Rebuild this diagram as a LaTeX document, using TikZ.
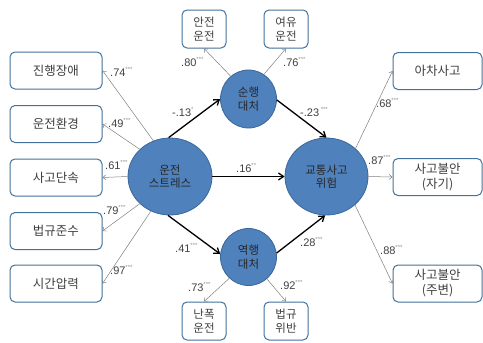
\documentclass[tikz,border=0pt]{standalone}
\usepackage{fontspec}
\setmainfont{Liberation Sans}
\newfontfamily\kr{Noto Sans CJK KR}
\usetikzlibrary{arrows.meta,shapes.geometric}
\definecolor{ellfill}{HTML}{4F81BD}
\definecolor{ellline}{HTML}{3A679A}
\definecolor{boxline}{HTML}{41719C}
\definecolor{txt}{HTML}{404040}
\definecolor{thinline}{HTML}{808080}
\definecolor{starc}{HTML}{909090}
\newcommand{\pv}[2]{#1\raisebox{0.75ex}{\fontsize{6}{6}\selectfont\color{starc}#2}}
\tikzset{
  box/.style={draw=boxline, line width=1pt, rounded corners=5pt, fill=white, text=txt,
    font=\kr\fontsize{12.5}{15}\selectfont, inner sep=0pt, align=center},
  lbox/.style={box, minimum width=92pt, minimum height=37pt},
  sbox/.style={box, minimum width=44pt, minimum height=38pt, font=\kr\fontsize{11.5}{14}\selectfont},
  rbox/.style={box, minimum width=89pt, minimum height=37pt},
  latent/.style={ellipse, draw=ellline, line width=0.8pt, fill=ellfill, inner sep=0pt,
    align=center, font=\kr\fontsize{11.5}{13.5}\selectfont, text=black!85},
  thinarr/.style={draw=thinline, line width=0.5pt, -{Straight Barb[length=3pt,width=5pt]}},
  thickarr/.style={draw=black, line width=1.3pt, -{Straight Barb[length=5pt,width=7pt]}},
  coef/.style={anchor=west, font=\fontsize{11}{11}\selectfont, text=txt, inner sep=0pt}
}
\begin{document}
\begin{tikzpicture}[x=1pt,y=-1pt]
\useasboundingbox (0,0) rectangle (483,343);
% latent variables
\node[latent, minimum width=84pt, minimum height=77pt] (stress) at (170,176.5) {운전\\스트레스};
\node[latent, minimum width=83pt, minimum height=77pt] (risk) at (326.5,176.5) {교통사고\\위험};
\node[latent, minimum width=56pt, minimum height=58pt] (sun) at (248.5,99) {순행\\대처};
\node[latent, minimum width=56pt, minimum height=57pt] (yeok) at (248.5,257) {역행\\대처};
% left boxes
\node[lbox] (b1) at (56,70.5) {진행장애};
\node[lbox] (b2) at (56,124) {운전환경};
\node[lbox] (b3) at (56,177.5) {사고단속};
\node[lbox] (b4) at (56,231) {법규준수};
\node[lbox] (b5) at (56,283.5) {시간압력};
% top and bottom boxes
\node[sbox] (t1) at (204,29) {안전\\운전};
\node[sbox] (t2) at (286,29) {여유\\운전};
\node[sbox] (d1) at (204,321) {난폭\\운전};
\node[sbox] (d2) at (286,321) {법규\\위반};
% right boxes
\node[rbox] (r1) at (437.5,71) {아차사고};
\node[rbox] (r2) at (437.5,177) {사고불안\\(자기)};
\node[rbox] (r3) at (437.5,283.5) {사고불안\\(주변)};
% thin arrows
\draw[thinarr] (stress.115) -- (b1.east);
\draw[thinarr] (stress.138) -- (b2.east);
\draw[thinarr] (stress.180) -- (b3.east);
\draw[thinarr] (stress.222) -- (b4.east);
\draw[thinarr] (stress.241) -- (b5.east);
\draw[thinarr] (sun.128) -- (t1.south);
\draw[thinarr] (sun.58) -- (t2.south);
\draw[thinarr] (yeok.228) -- (d1.north);
\draw[thinarr] (yeok.310) -- (d2.north);
\draw[thinarr] (risk.44) -- (r1.west);
\draw[thinarr] (risk.east) -- (r2.west);
\draw[thinarr] (risk.315) -- (r3.west);
% thick arrows
\draw[thickarr] (stress.92) -- (sun.180);
\draw[thickarr] (sun.358) -- (risk.90);
\draw[thickarr] (stress.east) -- (risk.west);
\draw[thickarr] (stress.267) -- (yeok.174);
\draw[thickarr] (yeok.8) -- (risk.268);
% coefficients
\node[coef] (c1) at (110,72) {\pv{.74}{***}};
\node[coef] (c2) at (108,123) {\pv{.49}{***}};
\node[coef] (c3) at (105,165) {\pv{.61}{***}};
\node[coef] (c4) at (103,210) {\pv{.79}{***}};
\node[coef] (c5) at (110,270) {\pv{.97}{***}};
\node[coef] (c6) at (181,62) {\pv{.80}{***}};
\node[coef] (c7) at (283,62) {\pv{.76}{***}};
\node[coef] (c8) at (172,112) {\pv{-.13}{*}};
\node[coef] (c9) at (300,112) {\pv{-.23}{\ ***}};
\node[coef] (c10) at (236,168) {\pv{.16}{**}};
\node[coef] (c11) at (175,248) {\pv{.41}{***}};
\node[coef] (c12) at (300,242) {\pv{.28}{***}};
\node[coef] (c13) at (376,103) {\pv{.68}{***}};
\node[coef] (c14) at (368,160) {\pv{.87}{***}};
\node[coef] (c15) at (380,250) {\pv{.88}{***}};
\node[coef] (c16) at (188,287) {\pv{.73}{***}};
\node[coef] (c17) at (280,285) {\pv{.92}{***}};
\end{tikzpicture}
\end{document}
